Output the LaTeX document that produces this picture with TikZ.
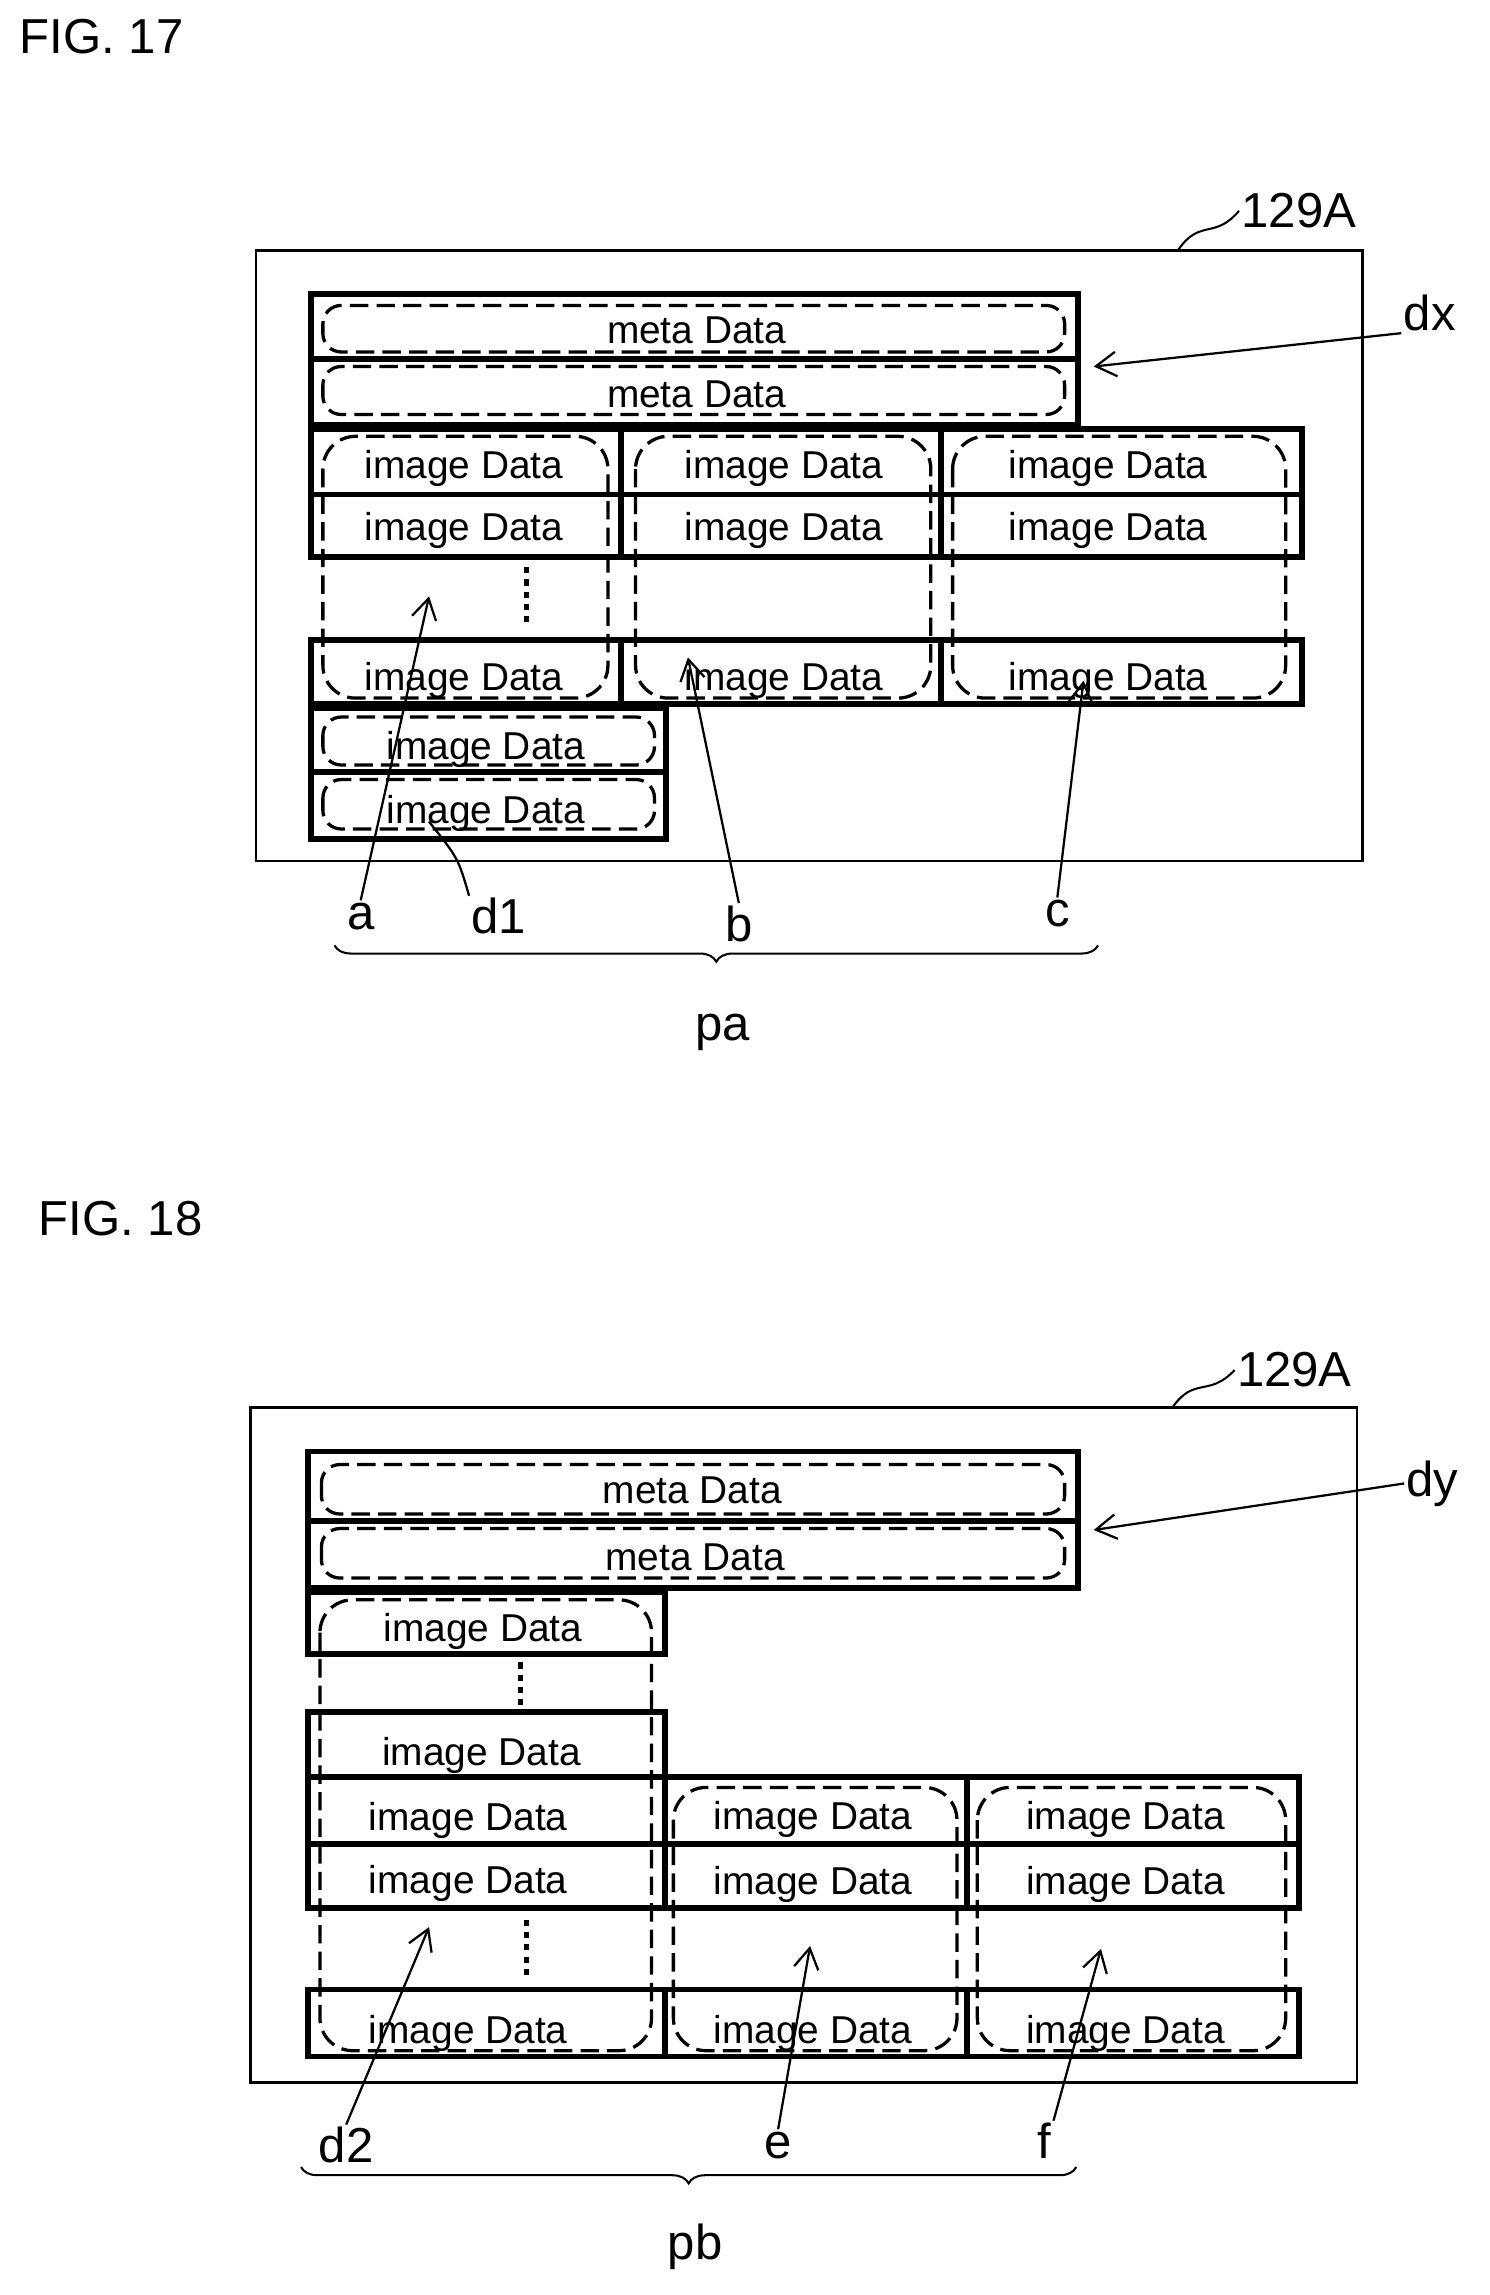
\documentclass[tikz,border=0pt]{standalone}
\usepackage{fontspec}
\setmainfont{Liberation Sans}
\usetikzlibrary{positioning,arrows.meta,decorations.pathreplacing}

\tikzset{
  frame/.style={draw=black,line width=1.4pt},
  blk/.style={draw=black,line width=2.8pt},
  grp/.style={draw=black,line width=1.6pt,dash pattern=on 9pt off 4pt,rounded corners=9pt},
  txt/.style={font=\fontsize{19}{22}\selectfont,inner sep=0pt},
  lbl/.style={font=\fontsize{24}{28}\selectfont,inner sep=1pt},
  ptr/.style={line width=1.1pt,-{Straight Barb[length=10pt,width=12pt]}},
  dots/.style={line width=2.5pt,dash pattern=on 3pt off 3pt}
}

\begin{document}
\begin{tikzpicture}[x=0.025cm,y=-0.025cm]
\useasboundingbox (0,0) rectangle (1024,1578);

%%% FIG. 17
\node[lbl,anchor=west] (fig17) at (12,25) {FIG. 17};
\draw[frame] (176,172) rectangle (937,592);
\node[lbl] (mem1) at (893,145) {129A};
\draw[line width=1pt] (810,172) .. controls (825,150) and (835,165) .. (mem1.west);

%meta block
\draw[blk] (214,202) rectangle (741,292);
\draw[blk] (214,247) -- (741,247);
\draw[grp] (222,210) rectangle (732,242);
\draw[grp] (222,252) rectangle (732,285);
\node[txt] (m1) at (479,227) {meta Data};
\node[txt] (m2) at (479,271) {meta Data};
\node[lbl] (dx) at (983,215) {dx};
\coordinate (dxt) at (752,252);
\draw[ptr] (dx.south west) -- (dxt);

%image columns
\draw[blk] (214,295) rectangle (895,383);
\draw[blk] (214,340) -- (895,340);
\draw[blk] (214,440) rectangle (895,484);
\foreach \x in {427,647}{
  \draw[blk] (\x,295) -- (\x,383);
  \draw[blk] (\x,440) -- (\x,484);
}
\foreach \l/\r/\c in {222/418/319, 437/640/539, 655/884/762}{
  \draw[grp,rounded corners=16pt] (\l,300) rectangle (\r,480);
  \node[txt] at (\c,322) {image Data};
  \node[txt] at (\c,365) {image Data};
  \node[txt] at (\c,468) {image Data};
}
\draw[dots] (362,390) -- (362,428);

%d1 block
\draw[blk] (214,487) rectangle (458,577);
\draw[blk] (214,531) -- (458,531);
\draw[grp] (222,493) rectangle (450,526);
\draw[grp] (222,536) rectangle (450,570);
\node[txt] (i1) at (334,515) {image Data};
\node[txt] (i2) at (334,559) {image Data};

%labels
\node[lbl] (a) at (248,630) {a};
\node[lbl] (d1) at (343,630) {d1};
\node[lbl] (b) at (508,635) {b};
\node[lbl] (c) at (727,628) {c};
\coordinate (at) at (295,410);
\coordinate (d1t) at (295,565);
\coordinate (bt) at (473,452);
\coordinate (ct) at (745,468);
\draw[ptr] (a.north) -- (at);
\draw[line width=1.1pt] (d1.north west) .. controls (315,590) .. (d1t);
\draw[ptr] (b.north) -- (bt);
\draw[ptr] (c.north) -- (ct);
\draw[line width=1pt,decorate,decoration={brace,mirror,amplitude=8pt}] (230,650) -- (755,650);
\node[lbl] (pa) at (497,710) {pa};

%%% FIG. 18
\node[lbl,anchor=west] (fig18) at (25,838) {FIG. 18};
\draw[frame] (172,968) rectangle (933,1432);
\node[lbl] (mem2) at (890,942) {129A};
\draw[line width=1pt] (806,968) .. controls (821,946) and (831,961) .. (mem2.west);

%meta block
\draw[blk] (212,998) rectangle (741,1092);
\draw[blk] (212,1046) -- (741,1046);
\draw[grp] (221,1007) rectangle (732,1041);
\draw[grp] (221,1051) rectangle (732,1085);
\node[txt] (m3) at (476,1025) {meta Data};
\node[txt] (m4) at (478,1071) {meta Data};
\node[lbl] (dy) at (985,1020) {dy};
\coordinate (dyt) at (752,1052);
\draw[ptr] (dy.west) -- (dyt);

%d2 column
\draw[blk] (212,1095) rectangle (457,1137);
\node[txt] at (332,1122) {image Data};
\draw[dots] (358,1143) -- (358,1172);
\draw[blk] (212,1177) rectangle (457,1312);
\draw[blk] (212,1222) -- (893,1222) -- (893,1312) -- (457,1312);
\draw[blk] (212,1268) -- (893,1268);
\draw[blk] (665,1222) -- (665,1312);
\node[txt] at (331,1207) {image Data};
\node[txt] at (322,1252) {image Data};
\node[txt] at (322,1295) {image Data};
\draw[dots] (362,1320) -- (362,1360);
\draw[blk] (212,1368) rectangle (893,1414);
\draw[blk] (457,1368) -- (457,1414);
\draw[blk] (665,1368) -- (665,1414);
\node[txt] at (322,1398) {image Data};
\draw[grp,rounded corners=16pt] (220,1100) rectangle (448,1410);
\foreach \l/\r/\c in {463/658/559, 672/884/774}{
  \draw[grp,rounded corners=16pt] (\l,1229) rectangle (\r,1410);
  \node[txt] at (\c,1251) {image Data};
  \node[txt] at (\c,1296) {image Data};
  \node[txt] at (\c,1398) {image Data};
}

%labels
\node[lbl] (d2) at (238,1475) {d2};
\node[lbl] (e) at (535,1475) {e};
\node[lbl] (f) at (718,1472) {f};
\coordinate (d2t) at (295,1325);
\coordinate (et) at (557,1338);
\coordinate (ft) at (757,1340);
\draw[ptr] (d2.north) -- (d2t);
\draw[ptr] (e.north) -- (et);
\draw[ptr] (f.north east) -- (ft);
\draw[line width=1pt,decorate,decoration={brace,mirror,amplitude=8pt}] (207,1490) -- (740,1490);
\node[lbl] (pb) at (478,1545) {pb};
\end{tikzpicture}
\end{document}
